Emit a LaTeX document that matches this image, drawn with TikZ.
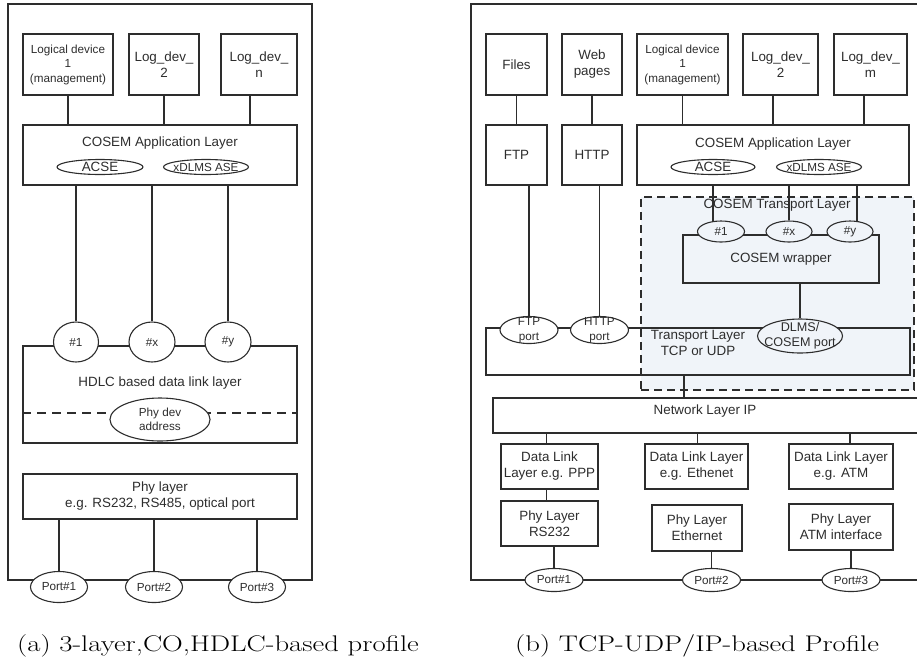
\documentclass[tikz,border=0pt]{standalone}
\usepackage{fontspec}
\usepackage{graphicx}
\newfontfamily\diagfont{Liberation Sans}
\usetikzlibrary{shapes.geometric}
\pgfdeclarelayer{shade}
\pgfdeclarelayer{wires}
\pgfsetlayers{shade,wires,main}
\definecolor{ink}{RGB}{45,45,45}
\definecolor{tlfill}{RGB}{240,244,249}
\tikzset{
  layer/.style={draw=ink, line width=1.1pt, rectangle, inner sep=0pt, align=center, text=ink},
  oval/.style={draw=ink, line width=1.1pt, ellipse, inner sep=0pt, fill=white},
  wire/.style={draw=ink, line width=1.1pt},
  txtM/.style={font=\diagfont\fontsize{13.4}{16}\selectfont, align=center, text=ink, inner sep=0pt},
  txtS/.style={font=\diagfont\fontsize{11.7}{14.5}\selectfont, align=center, text=ink, inner sep=0pt},
  capt/.style={font=\rmfamily\fontsize{22.6}{26}\selectfont, inner sep=0pt},
}
\begin{document}
\begin{tikzpicture}[x=1pt,y=-1pt]
\useasboundingbox (0,0) rectangle (917,665);
\clip (0,0) rectangle (917,665);

% ---------------- (a) 3-layer, connection oriented, HDLC based ----------------
\node[layer, minimum width=304, minimum height=576] (frameA) at (160,292) {};

\node[layer, txtS, minimum width=90, minimum height=61] (ld1a) at (68,64.5) {Logical device\\1\\(management)};
\node[layer, txtM, minimum width=70, minimum height=61] (ld2a) at (164,64.5) {Log\_dev\_\\2};
\node[layer, txtM, minimum width=76, minimum height=61] (ldna) at (259,64.5) {Log\_dev\_\\n};

\node[layer, minimum width=274, minimum height=60] (appa) at (160,155) {};
\node[txtM] (appaT) at (160,143) {COSEM Application Layer};
\node[oval, minimum width=86, minimum height=15] (acsea) at (100,167) {};
\node[txtM] (acseaT) at (acsea) {ACSE};
\node[oval, minimum width=85, minimum height=15] (xdlmsa) at (206,167) {};
\node[txtS] (xdlmsaT) at (xdlmsa) {xDLMS ASE};

\node[layer, minimum width=274, minimum height=97] (hdlc) at (160,394.5) {};
\node[txtM] (hdlcT) at (160,383) {HDLC based data link layer};
\draw[wire, dash pattern=on 9pt off 6pt] ([yshift=-18.5pt]hdlc.west) -- ([yshift=-18.5pt]hdlc.east);
\node[oval, minimum width=100, minimum height=43] (phydev) at (160,419.5) {};
\node[txtS] (phydevT) at (phydev) {Phy dev\\address};

\node[oval, minimum width=45, minimum height=40] (e1a) at (76,342) {};
\node[txtS] (e1aT) at (e1a) {\#1};
\node[oval, minimum width=46, minimum height=40] (exa) at (152,342) {};
\node[txtS] (exaT) at (exa) {\#x};
\node[oval, minimum width=46, minimum height=40] (eya) at (228,342) {};
\node[txtS] (eyaT) at (eya) {\#y};

\node[layer, txtM, minimum width=274, minimum height=45] (phya) at (160,496.5) {Phy layer\\e.g. RS232, RS485, optical port};

\node[oval, minimum width=57, minimum height=31] (p1a) at (59,587) {};
\node[txtS] (p1aT) at (p1a) {Port\#1};
\node[oval, minimum width=57, minimum height=31] (p2a) at (154,587) {};
\node[txtS] (p2aT) at (p2a) {Port\#2};
\node[oval, minimum width=57, minimum height=31] (p3a) at (257,587) {};
\node[txtS] (p3aT) at (p3a) {Port\#3};

\begin{pgfonlayer}{wires}
  \draw[wire] (ld1a.south) -- (ld1a.south |- appa.north);
  \draw[wire] (ld2a.south) -- (ld2a.south |- appa.north);
  \draw[wire] ([xshift=-9pt]ldna.south) -- ([xshift=-9pt]ldna.south |- appa.north);
  \draw[wire] (appa.south -| e1a) -- (e1a);
  \draw[wire] (appa.south -| exa) -- (exa);
  \draw[wire] (appa.south -| eya) -- (eya);
  \draw[wire] (phya.south -| p1a) -- (p1a);
  \draw[wire] (phya.south -| p2a) -- (p2a);
  \draw[wire] (phya.south -| p3a) -- (p3a);
\end{pgfonlayer}

\node[capt, anchor=base west] (capA) at (17,651) {\scalebox{1.27}[1]{(a) 3-layer,CO,HDLC-based profile}};

% ---------------- (b) TCP-UDP/IP based ----------------
\node[layer, minimum width=460, minimum height=576] (frameB) at (701,292) {};

\begin{pgfonlayer}{shade}
  \node[draw=ink, line width=1.1pt, dash pattern=on 8pt off 5pt, fill=tlfill,
        minimum width=273, minimum height=193, inner sep=0pt] (tlbox) at (777.5,293.5) {};
\end{pgfonlayer}
\node[txtM] (tlboxT) at (777,205) {COSEM Transport Layer};

\node[layer, txtM, minimum width=61, minimum height=61] (files) at (516.5,64.5) {Files};
\node[layer, txtM, minimum width=60, minimum height=61] (web) at (592,64.5) {Web\\pages};
\node[layer, txtS, minimum width=91, minimum height=61] (ld1b) at (682.5,64.5) {Logical device\\1\\(management)};
\node[layer, txtM, minimum width=75, minimum height=61] (ld2b) at (780.5,64.5) {Log\_dev\_\\2};
\node[layer, txtM, minimum width=73, minimum height=61] (ldmb) at (870.5,64.5) {Log\_dev\_\\m};

\node[layer, txtM, minimum width=61, minimum height=60] (ftp) at (516.5,155) {FTP};
\node[layer, txtM, minimum width=60, minimum height=60] (http) at (592,155) {HTTP};
\node[layer, minimum width=272, minimum height=60] (appb) at (773,155) {};
\node[txtM] (appbT) at (773,144) {COSEM Application Layer};
\node[oval, minimum width=84, minimum height=15] (acseb) at (713,167) {};
\node[txtM] (acsebT) at (acseb) {ACSE};
\node[oval, minimum width=85, minimum height=15] (xdlmsb) at (819,167) {};
\node[txtS] (xdlmsbT) at (xdlmsb) {xDLMS ASE};

\node[layer, txtM, minimum width=196, minimum height=48] (wrap) at (781,259) {\raisebox{-3pt}{COSEM wrapper}};
\node[oval, fill=tlfill, minimum width=47, minimum height=21] (e1b) at (721,231.5) {};
\node[txtS] (e1bT) at (e1b) {\#1};
\node[oval, fill=tlfill, minimum width=46, minimum height=21] (exb) at (789,231.5) {};
\node[txtS] (exbT) at (exb) {\#x};
\node[oval, fill=tlfill, minimum width=46, minimum height=21] (eyb) at (850,231.5) {};
\node[txtS] (eybT) at (eyb) {\#y};

\node[layer, minimum width=424, minimum height=47] (tcp) at (698,351.5) {};
\node[txtM] (tcpT) at (698,343) {Transport Layer\\TCP or UDP};
\node[oval, minimum width=58, minimum height=27] (ftpport) at (529,330) {};
\node[txtS] (ftpportT) at (ftpport) {FTP\\port};
\node[oval, minimum width=58, minimum height=27] (httpport) at (599.5,330) {};
\node[txtS] (httpportT) at (httpport) {HTTP\\port};
\node[oval, fill=tlfill, minimum width=85, minimum height=34] (dlms) at (800,336) {};
\node[font=\diagfont\fontsize{12.6}{15}\selectfont, align=center, text=ink, inner sep=0pt] (dlmsT) at (dlms) {DLMS/\\COSEM port};

\node[layer, minimum width=437, minimum height=35] (net) at (711.5,415.5) {};
\node[txtM] (netT) at (705,411.5) {Network Layer IP};

\node[layer, txtM, minimum width=97, minimum height=45] (dl1) at (549.5,466.5) {Data Link\\Layer e.g. PPP};
\node[layer, txtM, minimum width=103, minimum height=45] (dl2) at (696.5,466.5) {Data Link Layer\\e.g. Ethenet};
\node[layer, txtM, minimum width=104, minimum height=45] (dl3) at (841,466.5) {Data Link Layer\\e.g. ATM};

\node[layer, txtM, minimum width=97, minimum height=45] (phy1) at (549.5,523.5) {Phy Layer\\RS232};
\node[layer, txtM, minimum width=90, minimum height=46] (phy2) at (697,528) {Phy Layer\\Ethernet};
\node[layer, txtM, minimum width=104, minimum height=46] (phy3) at (841,527) {Phy Layer\\ATM interface};

\node[oval, minimum width=58, minimum height=23] (p1b) at (554,580) {};
\node[txtS] (p1bT) at (p1b) {Port\#1};
\node[oval, minimum width=58, minimum height=23] (p2b) at (711.5,580) {};
\node[txtS] (p2bT) at (p2b) {Port\#2};
\node[oval, minimum width=58, minimum height=23] (p3b) at (851,580) {};
\node[txtS] (p3bT) at (p3b) {Port\#3};

\begin{pgfonlayer}{wires}
  \draw[wire] (files.south) -- (files.south |- ftp.north);
  \draw[wire] (web.south) -- (web.south |- http.north);
  \draw[wire] (ld1b.south) -- (ld1b.south |- appb.north);
  \draw[wire] ([xshift=-7.5pt]ld2b.south) -- ([xshift=-7.5pt]ld2b.south |- appb.north);
  \draw[wire] ([xshift=-6.5pt]ldmb.south) -- ([xshift=-6.5pt]ldmb.south |- appb.north);
  \draw[wire] (ftpport |- ftp.south) -- (ftpport);
  \draw[wire] (httpport |- http.south) -- (httpport);
  \draw[wire] ([xshift=-8pt]appb.south -| e1b) -- ([xshift=-8pt]e1b.center);
  \draw[wire] (appb.south -| exb) -- (exb);
  \draw[wire] ([xshift=7pt]appb.south -| eyb) -- ([xshift=7pt]eyb.center);
  \draw[wire] (wrap.south -| dlms) -- (dlms);
  \draw[wire] ([xshift=-14pt]tcp.south) -- ([xshift=-14pt]tcp.south |- net.north);
  \draw[wire] ([xshift=-3pt]dl1.north |- net.south) -- ([xshift=-3pt]dl1.north);
  \draw[wire] ([xshift=1pt]dl2.north |- net.south) -- ([xshift=1pt]dl2.north);
  \draw[wire] ([xshift=9pt]dl3.north |- net.south) -- ([xshift=9pt]dl3.north);
  \draw[wire] ([xshift=-3pt]dl1.south) -- ([xshift=-3pt]dl1.south |- phy1.north);
  \draw[wire] (phy1.south -| p1b) -- (p1b);
  \draw[wire] (phy2.south -| p2b) -- (p2b);
  \draw[wire] (phy3.south -| p3b) -- (p3b);
\end{pgfonlayer}

\node[capt, anchor=base west] (capB) at (515,651) {\scalebox{1.27}[1]{(b) TCP-UDP/IP-based Profile}};
\end{tikzpicture}
\end{document}
